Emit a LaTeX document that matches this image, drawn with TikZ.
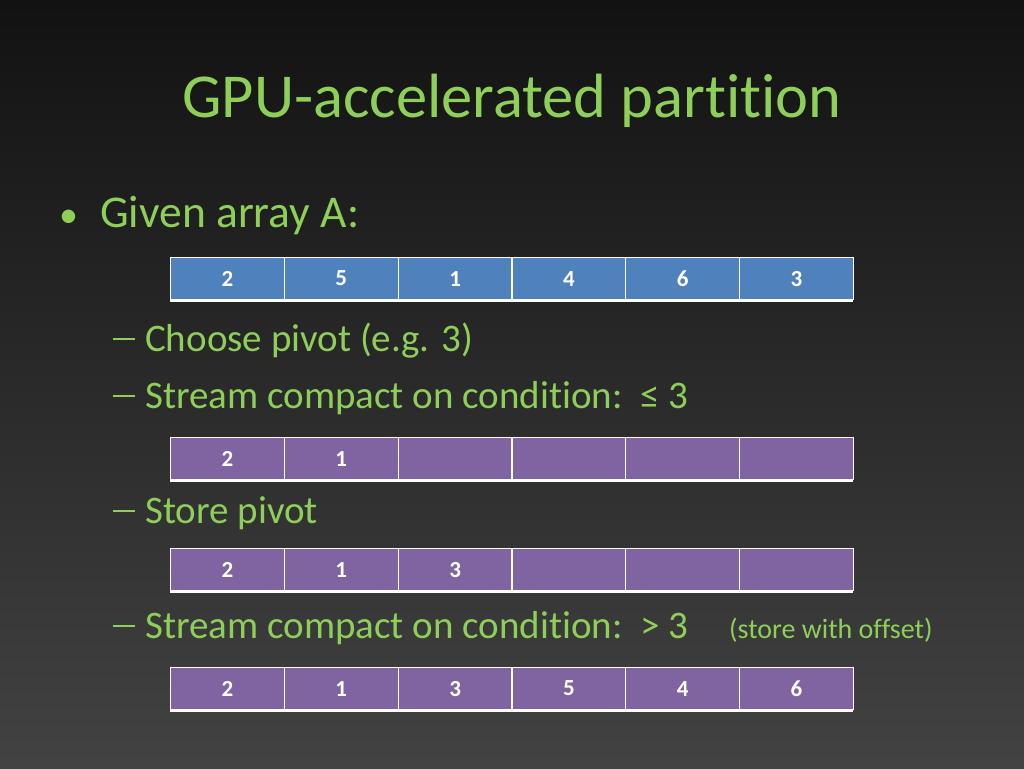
\documentclass[tikz,border=0pt]{standalone}
\usepackage{fontspec}
\setmainfont[Ligatures=NoCommon]{Carlito}
\definecolor{ttl}{HTML}{8DCF58}
\definecolor{blu}{HTML}{4F81BD}
\definecolor{pur}{HTML}{8064A2}
\tikzset{cell/.style={draw=white,line width=1.2pt,minimum width=113.8pt,minimum height=42pt,inner sep=0pt,text=white,font=\fontsize{23}{23}\selectfont\bfseries,anchor=north west},
txt/.style={anchor=base west,inner sep=0pt,text=ttl,font=\fontsize{39}{39}\selectfont}}
\newcommand\arr[4]{%
\foreach \v [count=\i from 0] in {#3} {\node[cell,fill=#2] (#1\i) at (170+\i*113.8,#4) {\v};}
\draw[white,line width=3pt] (170,#4+43.5) -- (853,#4+43.5);}
\newcommand\dsh{\rule[0.27em]{0.55em}{0.06em}}
\begin{document}
\begin{tikzpicture}[x=1pt,y=-1pt]
\shade[top color=black!93,bottom color=black!74] (0,0) rectangle (1024,768);
\useasboundingbox (0,0) rectangle (1024,768);
\node[anchor=base,text=ttl,font=\fontsize{62.5}{62.5}\selectfont,inner sep=0pt] (title) at (512,117) {GPU-accelerated partition};
\node[txt,font=\fontsize{38}{38}\selectfont] (bul) at (59,227) {•};
\node[txt,font=\fontsize{45.5}{45.5}\selectfont] (b0) at (100,227) {Given array A:};
\arr{a}{blu}{2,5,1,4,6,3}{257}
\node[txt] (d1) at (113,351) {\dsh};
\node[txt] (b1) at (145,351) {Choose pivot (e.g. 3)};
\node[txt] (d2) at (113,408) {\dsh};
\node[txt] (b2) at (145,408) {Stream compact on condition:\ \ ≤ 3};
\arr{b}{pur}{2,1,{},{},{},{}}{437}
\node[txt] (d3) at (113,523) {\dsh};
\node[txt] (b3) at (145,523) {Store pivot};
\arr{c}{pur}{2,1,3,{},{},{}}{548}
\node[txt] (d4) at (113,638) {\dsh};
\node[txt] (b4) at (145,638) {Stream compact on condition:\ \ > 3};
\node[txt,font=\fontsize{28}{28}\selectfont] (n4) at (729,638) {(store with offset)};
\arr{d}{pur}{2,1,3,5,4,6}{667}
\end{tikzpicture}
\end{document}
